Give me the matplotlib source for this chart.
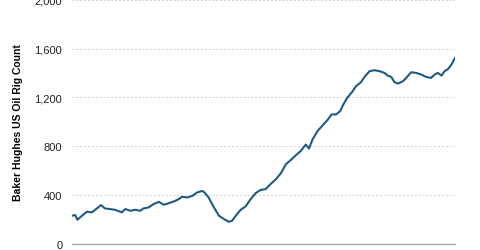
import matplotlib
matplotlib.use("Agg")
import matplotlib.pyplot as plt
from matplotlib.ticker import FuncFormatter

# weekly US oil rig count (decimal years)
years = [2006.00, 2006.07, 2006.12, 2006.22, 2006.33, 2006.44, 2006.55, 2006.64,
         2006.73, 2006.84, 2006.95, 2007.10, 2007.18, 2007.29, 2007.40, 2007.51,
         2007.58, 2007.69, 2007.80, 2007.92, 2008.03, 2008.14, 2008.25, 2008.36,
         2008.43, 2008.55, 2008.66, 2008.77, 2008.88, 2008.93, 2009.02, 2009.14,
         2009.25, 2009.36, 2009.47, 2009.54, 2009.62, 2009.73, 2009.84, 2009.95,
         2010.06, 2010.17, 2010.28, 2010.39, 2010.51, 2010.62, 2010.73, 2010.84,
         2010.95, 2011.06, 2011.17, 2011.24, 2011.32, 2011.43, 2011.54, 2011.65,
         2011.74, 2011.84, 2011.93, 2011.99, 2012.08, 2012.19, 2012.28, 2012.39,
         2012.48, 2012.58, 2012.69, 2012.80, 2012.91, 2012.98, 2013.06, 2013.13,
         2013.21, 2013.32, 2013.39, 2013.50, 2013.61, 2013.72, 2013.83, 2013.94,
         2014.02, 2014.09, 2014.17, 2014.24, 2014.32, 2014.39, 2014.47]
rigs = [231, 237, 198, 231, 264, 259, 291, 318,
        291, 286, 280, 259, 286, 272, 280, 272,
        291, 299, 326, 345, 321, 334, 348, 367,
        386, 381, 394, 422, 435, 422, 381, 299,
        231, 204, 182, 190, 231, 280, 308, 367,
        416, 443, 449, 490, 531, 580, 653, 688,
        727, 762, 814, 781, 857, 925, 971, 1015,
        1061, 1061, 1088, 1135, 1194, 1243, 1292, 1325,
        1374, 1415, 1423, 1415, 1401, 1379, 1368, 1325,
        1314, 1333, 1360, 1406, 1401, 1388, 1368, 1360,
        1388, 1401, 1379, 1415, 1434, 1469, 1524]
yticks = [0, 400, 800, 1200, 1600, 2000]

plt.rcParams['font.family'] = ['Liberation Sans', 'DejaVu Sans']

fig = plt.figure(figsize=(4.8, 2.51), dpi=100)
ax = fig.add_axes([0.15, 0.024, 0.798, 0.973])

ax.plot(years, rigs, color="#1d5b80", linewidth=1.5)

ax.set_xlim(years[0], years[-1])
ax.set_ylim(0, 2000)
ax.set_yticks(yticks)
ax.yaxis.set_major_formatter(FuncFormatter(lambda v, p: f"{int(v):,}"))
ax.set_xticks([])
ax.tick_params(axis="y", length=0, pad=7, labelsize=8, labelcolor="#222222")

ax.grid(axis="y", color="#d0d0d0", linestyle=(0, (2, 2)), linewidth=0.7)
ax.set_axisbelow(True)
for s in ["top", "right", "left"]:
    ax.spines[s].set_visible(False)
ax.spines["bottom"].set_color("#a8a8a8")
ax.spines["bottom"].set_linewidth(1.0)

ax.set_ylabel("Baker Hughes US Oil Rig Count", fontsize=7.5, fontweight="bold",
              labelpad=8)

fig.savefig("out.png", dpi=100)
